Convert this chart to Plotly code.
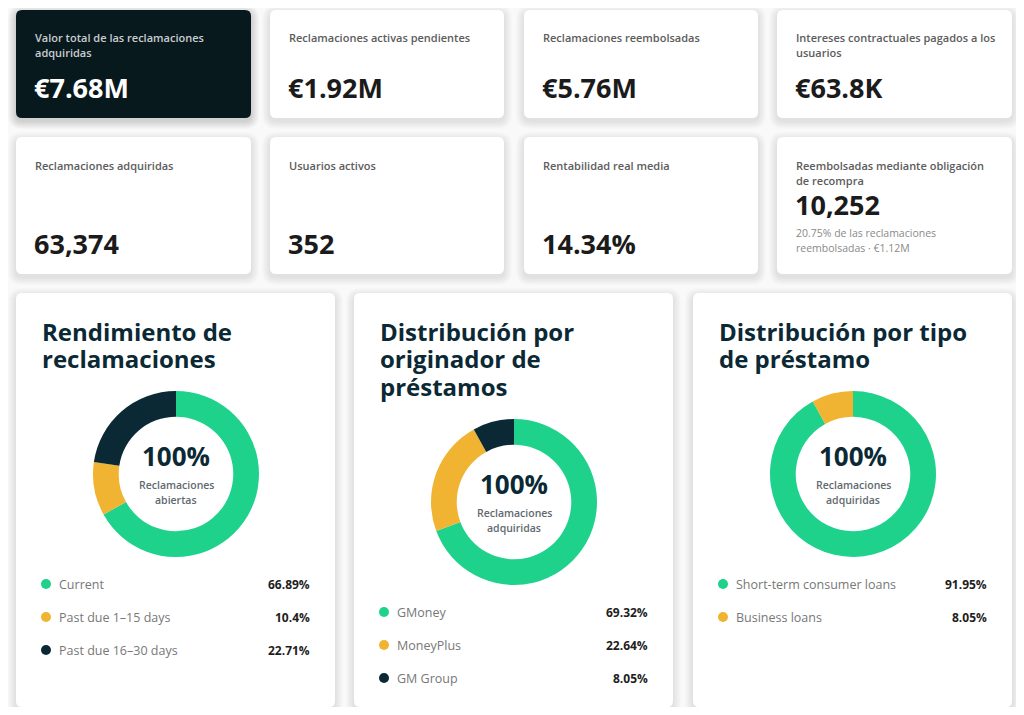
import plotly.graph_objects as go

# The page body has an 8px margin, so the figure is sized to fit inside it
OFF = 8
W, H = 1024 - 2 * OFF, 715 - 2 * OFF

# ---------------- data ----------------
kpi_labels = [
    ["Valor total de las reclamaciones", "adquiridas"],
    ["Reclamaciones activas pendientes"],
    ["Reclamaciones reembolsadas"],
    ["Intereses contractuales pagados a los", "usuarios"],
    ["Reclamaciones adquiridas"],
    ["Usuarios activos"],
    ["Rentabilidad real media"],
    ["Reembolsadas mediante obligación", "de recompra"],
]
kpi_values = ["€7.68M", "€1.92M", "€5.76M", "€63.8K", "63,374", "352", "14.34%", "10,252"]
kpi_sub = ["20.75% de las reclamaciones", "reembolsadas · €1.12M"]

perf_title = ["Rendimiento de", "reclamaciones"]
perf_center = ["Reclamaciones", "abiertas"]
perf_labels = ["Current", "Past due 1–15 days", "Past due 16–30 days"]
perf_values = [66.89, 10.4, 22.71]

orig_title = ["Distribución por", "originador de", "préstamos"]
orig_center = ["Reclamaciones", "adquiridas"]
orig_labels = ["GMoney", "MoneyPlus", "GM Group"]
orig_values = [69.32, 22.64, 8.05]

type_title = ["Distribución por tipo", "de préstamo"]
type_center = ["Reclamaciones", "adquiridas"]
type_labels = ["Short-term consumer loans", "Business loans"]
type_values = [91.95, 8.05]

center_total = "100%"

# ---------------- style ----------------
GREEN, YELLOW, NAVY = "#1ED28C", "#F0B432", "#0B2935"
COLORS = [GREEN, YELLOW, NAVY]
FONT = "Open Sans"


def X(x):
    return (x - OFF) / W


def Y(y):
    return 1 - (y - OFF) / H


def rrect_path(x0, y0, x1, y1, r):
    pts = [
        ("M", [(x0 + r, y0)]), ("L", [(x1 - r, y0)]), ("Q", [(x1, y0), (x1, y0 + r)]),
        ("L", [(x1, y1 - r)]), ("Q", [(x1, y1), (x1 - r, y1)]), ("L", [(x0 + r, y1)]),
        ("Q", [(x0, y1), (x0, y1 - r)]), ("L", [(x0, y0 + r)]), ("Q", [(x0, y0), (x0 + r, y0)]),
    ]
    s = ""
    for cmd, ps in pts:
        s += cmd + " " + " ".join(f"{X(a):.6f},{Y(b):.6f}" for a, b in ps) + " "
    return s + "Z"


shapes = []
annotations = []


def card(x0, y0, x1, y1, fill="#FFFFFF", shadow=0.011):
    for k in range(8, 0, -1):
        shapes.append(dict(type="path", xref="paper", yref="paper", layer="below",
                           path=rrect_path(x0 - k, y0 - k + 3, x1 + k, y1 + k + 3, 6 + k),
                           fillcolor=f"rgba(0,0,0,{shadow})", line=dict(width=0)))
    shapes.append(dict(type="path", xref="paper", yref="paper", layer="below",
                       path=rrect_path(x0, y0, x1, y1, 6), fillcolor=fill, line=dict(width=0)))


def text(x, y, s, size, color, weight=400, anchor="left"):
    annotations.append(dict(x=X(x), y=Y(y), xref="paper", yref="paper", text=s, showarrow=False,
                            xanchor=anchor, yanchor="middle", borderpad=0,
                            font=dict(family=FONT, size=size, color=color, weight=weight)))


# ---------------- KPI cards ----------------
cols = [(16, 251), (270, 504), (524, 758), (777, 1012)]
rows = [(10, 118), (137, 274)]
for i in range(8):
    r, c = divmod(i, 4)
    x0, x1 = cols[c]
    y0, y1 = rows[r]
    dark = (i == 0)
    card(x0, y0, x1, y1, fill="#08191E" if dark else "#FFFFFF", shadow=0.02 if dark else 0.011)
    lab_col = "#C9CDCF" if dark else "#5C5C5C"
    val_col = "#FFFFFF" if dark else "#1B1B1B"
    lx = x0 + 18
    ly = y0 + 28
    for j, line in enumerate(kpi_labels[i]):
        text(lx, ly + 15 * j, line, 11, lab_col, 600)
    if r == 0:
        text(lx - 1, 88, kpi_values[i], 27, val_col, 700)
    elif i == 7:
        text(lx - 1, 204, kpi_values[i], 27, val_col, 700)
        for j, line in enumerate(kpi_sub):
            text(lx, 233 + 15 * j, line, 10.5, "#8A8A8A", 400)
    else:
        text(lx - 1, 243, kpi_values[i], 27, val_col, 700)

# ---------------- donut cards ----------------
panels = [
    dict(x0=16, x1=335, title=perf_title, center=perf_center, labels=perf_labels,
         values=perf_values, cx=176, cy=474, leg_y=584),
    dict(x0=354, x1=673, title=orig_title, center=orig_center, labels=orig_labels,
         values=orig_values, cx=514, cy=502, leg_y=612),
    dict(x0=693, x1=1012, title=type_title, center=type_center, labels=type_labels,
         values=type_values, cx=853, cy=474, leg_y=584),
]

fig = go.Figure()
R = 83
for p in panels:
    card(p["x0"], 293, p["x1"], 707)
    tx = p["x0"] + 25
    for j, line in enumerate(p["title"]):
        text(tx, 331 + 27.5 * j, line, 24, NAVY, 700)
    fig.add_trace(go.Pie(
        labels=p["labels"], values=p["values"], hole=0.69, sort=False,
        direction="clockwise", rotation=0, textinfo="none",
        marker=dict(colors=COLORS[:len(p["values"])], line=dict(width=0)),
        domain=dict(x=[X(p["cx"] - R), X(p["cx"] + R)], y=[Y(p["cy"] + R), Y(p["cy"] - R)]),
        showlegend=False, hovertemplate="%{label}: %{value}%<extra></extra>"))
    text(p["cx"], p["cy"] - 18, center_total, 26, NAVY, 700, anchor="center")
    text(p["cx"], p["cy"] + 11, p["center"][0], 10.5, "#5F6970", 600, anchor="center")
    text(p["cx"], p["cy"] + 26, p["center"][1], 10.5, "#5F6970", 600, anchor="center")
    for j, (lab, val) in enumerate(zip(p["labels"], p["values"])):
        yy = p["leg_y"] + 33 * j
        dx = p["x0"] + 30
        shapes.append(dict(type="circle", xref="paper", yref="paper",
                           x0=X(dx - 5), x1=X(dx + 5), y0=Y(yy + 5), y1=Y(yy - 5),
                           fillcolor=COLORS[j], line=dict(width=0)))
        text(dx + 12, yy, lab, 12.5, "#777777", 400)
        text(p["x1"] - 24, yy, f"{val:g}%", 12, "#1E1E1E", 700, anchor="right")

fig.update_layout(
    width=W, height=H, margin=dict(l=0, r=0, t=0, b=0),
    paper_bgcolor="#F9F9F9", plot_bgcolor="#F9F9F9",
    shapes=shapes, annotations=annotations,
    font=dict(family=FONT),
)
fig.write_html("out.html", config={"displayModeBar": False})
